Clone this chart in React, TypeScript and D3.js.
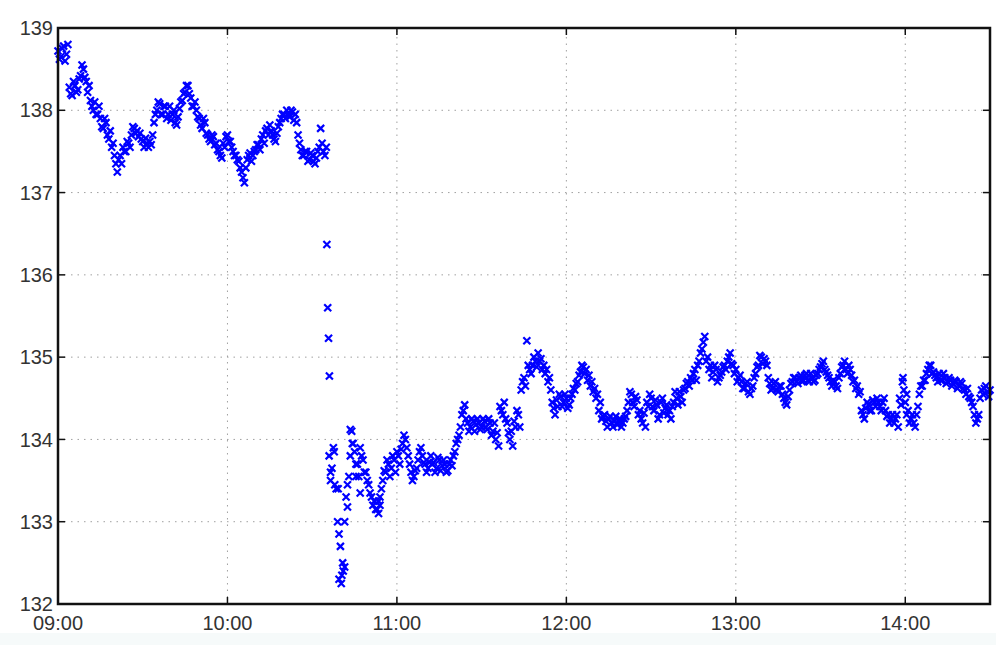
import React from "react";
import * as d3 from "d3";

// Prices sampled once per minute starting 09:00
const startTime = "09:00";
const pricesAM: number[] = [
  138.72, 138.65, 138.78, 138.68, 138.28, 138.18, 138.3, 138.25, 138.42, 138.5,
  138.35, 138.3, 138.05, 138.1, 137.95, 137.9, 137.78, 137.85, 137.65, 137.55,
  137.45, 137.25, 137.45, 137.55, 137.5, 137.6, 137.7, 137.78, 137.75, 137.72,
  137.62, 137.66, 137.55, 137.58, 137.85, 138.0, 138.08, 137.95, 138.05, 137.95,
  137.88, 138.0, 137.82, 138.02, 138.12, 138.22, 138.3, 138.15, 138.05, 138.0,
  137.9, 137.78, 137.85, 137.7, 137.62, 137.68, 137.6, 137.5, 137.42, 137.55,
  137.7, 137.62, 137.5, 137.45, 137.38, 137.25, 137.12, 137.4, 137.48, 137.45,
  137.52, 137.58, 137.65, 137.6, 137.78, 137.82, 137.7, 137.62, 137.8, 137.9,
  137.95, 138.0, 137.92, 137.98, 137.95, 137.7, 137.52, 137.45, 137.5, 137.4,
  137.45, 137.35, 137.5, 137.78, 137.5, 137.55,
];
// Second trade within each minute (30 s later)
const pricesAM2: number[] = [
  138.62, 138.75, 138.6, 138.8, 138.2, 138.35, 138.22, 138.38, 138.55, 138.4,
  138.22, 138.12, 138.0, 137.95, 138.05, 137.8, 137.9, 137.7, 137.75, 137.6,
  137.35, 137.4, 137.35, 137.5, 137.62, 137.55, 137.8, 137.72, 137.68, 137.65,
  137.55, 137.6, 137.62, 137.7, 137.95, 138.1, 137.95, 138.05, 137.9, 138.05,
  137.95, 137.85, 137.92, 138.1, 138.2, 138.3, 138.2, 138.05, 138.1, 137.92,
  137.82, 137.9, 137.72, 137.65, 137.7, 137.58, 137.52, 137.45, 137.6, 137.68,
  137.62, 137.55, 137.45, 137.4, 137.3, 137.18, 137.3, 137.45, 137.38, 137.5,
  137.58, 137.52, 137.7, 137.75, 137.7, 137.75, 137.65, 137.72, 137.85, 137.95,
  137.9, 137.95, 138.0, 137.88, 137.85, 137.6, 137.45, 137.5, 137.38, 137.48,
  137.38, 137.42, 137.55, 137.6, 137.45,
];
const pmStartMinute = 96;
const pricesPM: number[] = [
  133.8, 133.65, 133.45, 133.0, 132.7, 132.4, 133.3, 133.55, 134.1, 133.85,
  133.7, 133.9, 133.75, 133.6, 133.45, 133.3, 133.25, 133.15, 133.3, 133.5,
  133.6, 133.7, 133.65, 133.75, 133.85, 133.7, 133.95, 134.0, 133.8, 133.6,
  133.55, 133.65, 133.85, 133.8, 133.7, 133.65, 133.8, 133.72, 133.65, 133.75,
  133.68, 133.7, 133.62, 133.75, 133.8, 133.95, 134.05, 134.3, 134.42, 134.2,
  134.15, 134.22, 134.18, 134.2, 134.15, 134.22, 134.12, 134.2, 134.1, 134.0,
  133.92, 134.35, 134.45, 134.2, 134.0, 133.92, 134.15, 134.3, 134.6, 134.75,
  135.2, 134.85, 134.9, 134.95, 135.05, 134.98, 134.9, 134.85, 134.75, 134.45,
  134.3, 134.4, 134.52, 134.45, 134.5, 134.42, 134.55, 134.6, 134.7, 134.82,
  134.88, 134.85, 134.78, 134.7, 134.62, 134.55, 134.45, 134.28, 134.22, 134.25,
  134.2, 134.22, 134.18, 134.25, 134.2, 134.28, 134.45, 134.55, 134.4, 134.48,
  134.35, 134.2, 134.15, 134.4, 134.5, 134.35, 134.42, 134.3, 134.5, 134.38,
  134.3, 134.25, 134.45, 134.5, 134.58, 134.45, 134.62, 134.7, 134.75, 134.8,
  134.72, 134.95, 135.1, 135.25, 135.0, 134.9, 134.82, 134.85, 134.75, 134.82,
  134.9, 134.95, 135.05, 134.9, 134.85, 134.75, 134.7, 134.62, 134.7, 134.55,
  134.65, 134.8, 134.9, 135.0, 134.98, 134.9, 134.68, 134.62, 134.7, 134.58,
  134.65, 134.5, 134.42, 134.6, 134.7, 134.75, 134.68, 134.78, 134.72, 134.8,
  134.7, 134.75, 134.72, 134.8, 134.88, 134.95, 134.82, 134.75, 134.65, 134.7,
  134.62, 134.8, 134.9, 134.85, 134.9, 134.78, 134.72, 134.65, 134.58, 134.3,
  134.38, 134.42, 134.35, 134.45, 134.5, 134.4, 134.45, 134.35, 134.3, 134.25,
  134.2, 134.3, 134.5, 134.7, 134.45, 134.35, 134.25, 134.2, 134.3, 134.55,
  134.65, 134.72, 134.85, 134.9, 134.82, 134.75, 134.8, 134.72, 134.75, 134.7,
  134.72, 134.68, 134.7, 134.65, 134.68, 134.6, 134.62, 134.5, 134.4, 134.2,
  134.3, 134.6, 134.62, 134.58, 134.6,
];
const pricesPM2: number[] = [
  133.6, 133.9, 133.4, 132.85, 132.35, 132.45, 133.45, 133.8, 133.95, 133.7,
  133.55, 133.8, 133.6, 133.5, 133.35, 133.2, 133.15, 133.25, 133.4, 133.62,
  133.75, 133.55, 133.8, 133.6, 133.8, 133.88, 134.05, 133.9, 133.7, 133.5,
  133.62, 133.75, 133.9, 133.72, 133.6, 133.72, 133.7, 133.6, 133.78, 133.62,
  133.75, 133.6, 133.7, 133.68, 133.85, 134.0, 134.15, 134.35, 134.25, 134.1,
  134.25, 134.1, 134.25, 134.12, 134.25, 134.15, 134.25, 134.05, 134.2, 134.08,
  134.4, 134.3, 134.25, 134.08, 134.1, 134.22, 134.35, 134.15, 134.7, 134.65,
  134.9, 134.8, 135.0, 134.88, 134.95, 134.85, 134.8, 134.7, 134.6, 134.38,
  134.48, 134.55, 134.4, 134.55, 134.38, 134.5, 134.62, 134.68, 134.78, 134.9,
  134.8, 134.72, 134.65, 134.58, 134.5, 134.35, 134.25, 134.3, 134.15, 134.28,
  134.15, 134.28, 134.22, 134.15, 134.25, 134.35, 134.58, 134.45, 134.52, 134.3,
  134.25, 134.32, 134.45, 134.55, 134.4, 134.48, 134.25, 134.45, 134.32, 134.42,
  134.35, 134.4, 134.58, 134.42, 134.52, 134.6, 134.68, 134.65, 134.72, 134.85,
  134.9, 135.05, 135.18, 134.95, 134.85, 134.75, 134.9, 134.7, 134.78, 134.88,
  134.85, 135.0, 134.92, 134.8, 134.7, 134.78, 134.62, 134.68, 134.58, 134.62,
  134.75, 134.88, 135.02, 134.92, 134.95, 134.75, 134.6, 134.68, 134.6, 134.65,
  134.55, 134.45, 134.52, 134.68, 134.75, 134.7, 134.75, 134.7, 134.78, 134.72,
  134.8, 134.7, 134.78, 134.85, 134.92, 134.85, 134.78, 134.7, 134.72, 134.65,
  134.75, 134.88, 134.95, 134.8, 134.85, 134.7, 134.62, 134.55, 134.35, 134.25,
  134.45, 134.35, 134.48, 134.4, 134.45, 134.35, 134.5, 134.28, 134.2, 134.3,
  134.25, 134.15, 134.42, 134.6, 134.3, 134.2, 134.3, 134.15, 134.4, 134.65,
  134.72, 134.8, 134.9, 134.8, 134.78, 134.7, 134.72, 134.8, 134.68, 134.75,
  134.65, 134.72, 134.62, 134.7, 134.62, 134.55, 134.52, 134.45, 134.3, 134.25,
  134.5, 134.55, 134.65, 134.52,
];
// Isolated trades (minutes after 09:00, price)
const extraMinutes: number[] = [
  95.2, 95.5, 95.8, 96.1, 96.5, 97.8, 99.2, 99.5, 100.3, 100.8, 101.5, 102.5,
  103.5, 104.2, 105.5, 107, 113.5, 114, 299.2, 300.5,
];
const extraPrices: number[] = [
  136.37, 135.6, 135.23, 134.77, 133.5, 133.85, 133.4, 132.3, 132.25, 132.5, 133.0, 133.18,
  134.12, 133.95, 133.55, 133.35, 133.1, 133.2, 134.75, 134.55,
];
const yTicks: number[] = [132, 133, 134, 135, 136, 137, 138, 139];
const xTickLabels: string[] = ["09:00", "10:00", "11:00", "12:00", "13:00", "14:00"];
const xDomain: string[] = ["09:00", "14:30"];

const W = 996;
const H = 645;
const margin = { left: 58, right: 6, top: 28, bottom: 41 };

const parse = d3.timeParse("%H:%M");

export default function App() {
  const t0 = parse(startTime) as Date;
  const x = d3
    .scaleTime()
    .domain(xDomain.map((s) => parse(s) as Date))
    .range([margin.left, W - margin.right]);
  const y = d3.scaleLinear().domain([132, 139]).range([H - margin.bottom, margin.top]);
  const atMin = (m: number) => d3.timeSecond.offset(t0, Math.round(m * 60));

  const pts: { t: Date; v: number }[] = [];
  pricesAM.forEach((v, i) => pts.push({ t: atMin(i), v }));
  pricesAM2.forEach((v, i) => pts.push({ t: atMin(i + 0.5), v }));
  pricesPM.forEach((v, i) => pts.push({ t: atMin(pmStartMinute + i), v }));
  pricesPM2.forEach((v, i) => pts.push({ t: atMin(pmStartMinute + i + 0.5), v }));
  extraMinutes.forEach((m, i) => pts.push({ t: atMin(m), v: extraPrices[i] }));

  const x0 = margin.left;
  const x1 = W - margin.right;
  const y0 = H - margin.bottom;
  const y1 = margin.top;
  const s = 3.5;
  const font = "'Liberation Sans', Arial, Helvetica, sans-serif";

  return (
    <svg
      width={W}
      height={H}
      style={{ position: "absolute", left: 0, top: 0, background: "#fff" }}
    >
      <rect x={0} y={633} width={W} height={12} fill="#f6fafa" />
      {/* grid */}
      {yTicks.slice(1, -1).map((v) => (
        <line key={"gy" + v} x1={x0} x2={x1} y1={y(v)} y2={y(v)} stroke="#a0a0a0" strokeDasharray="1.5,5" strokeWidth={1} />
      ))}
      {xTickLabels.slice(1).map((l) => (
        <line key={"gx" + l} x1={x(parse(l) as Date)} x2={x(parse(l) as Date)} y1={y0} y2={y1} stroke="#a0a0a0" strokeDasharray="1.5,5" strokeWidth={1} />
      ))}
      {/* points */}
      <g stroke="#0000ff" strokeWidth={2.2}>
        {pts.map((p, i) => {
          const cx = x(p.t);
          const cy = y(p.v);
          return (
            <path key={i} d={`M${cx - s},${cy - s}L${cx + s},${cy + s}M${cx - s},${cy + s}L${cx + s},${cy - s}`} />
          );
        })}
      </g>
      {/* ticks */}
      {yTicks.map((v) => (
        <g key={"ty" + v}>
          <line x1={x0} x2={x0 + 7} y1={y(v)} y2={y(v)} stroke="#111" strokeWidth={1.5} />
          <line x1={x1} x2={x1 - 7} y1={y(v)} y2={y(v)} stroke="#111" strokeWidth={1.5} />
          <text x={x0 - 5} y={y(v)} dy="0.36em" textAnchor="end" fontFamily={font} fontSize={20} fill="#333">
            {v}
          </text>
        </g>
      ))}
      {xTickLabels.map((l) => {
        const xx = x(parse(l) as Date);
        return (
          <g key={"tx" + l}>
            <line x1={xx} x2={xx} y1={y0} y2={y0 - 7} stroke="#111" strokeWidth={1.5} />
            <line x1={xx} x2={xx} y1={y1} y2={y1 + 7} stroke="#111" strokeWidth={1.5} />
            <text x={xx} y={y0 + 19} dy="0.36em" textAnchor="middle" fontFamily={font} fontSize={20} fill="#333">
              {l}
            </text>
          </g>
        );
      })}
      <rect x={x0} y={y1} width={x1 - x0} height={y0 - y1} fill="none" stroke="#111" strokeWidth={2.5} />
    </svg>
  );
}
